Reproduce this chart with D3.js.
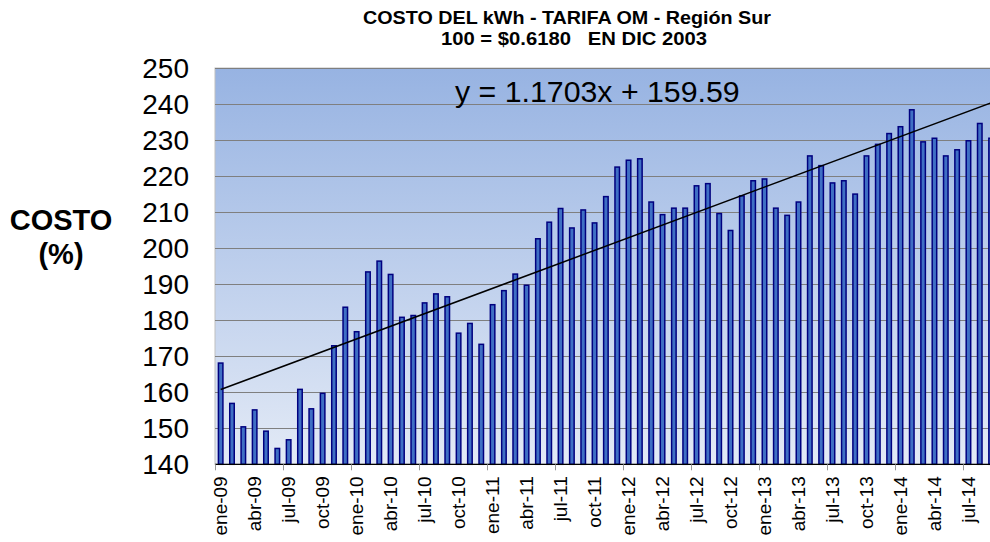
<!DOCTYPE html>
<html>
<head>
<meta charset="utf-8">
<script src="https://cdn.jsdelivr.net/npm/d3@7/dist/d3.min.js"></script>
<style>
  html, body { margin: 0; padding: 0; background: #ffffff; }
  svg { display: block; font-family: Arial, "Liberation Sans", sans-serif; }
</style>
</head>
<body>
<svg id="chart" width="990" height="542"></svg>
<script>
const months = [
  "ene-09","feb-09","mar-09","abr-09","may-09","jun-09","jul-09","ago-09","sep-09","oct-09","nov-09","dic-09",
  "ene-10","feb-10","mar-10","abr-10","may-10","jun-10","jul-10","ago-10","sep-10","oct-10","nov-10","dic-10",
  "ene-11","feb-11","mar-11","abr-11","may-11","jun-11","jul-11","ago-11","sep-11","oct-11","nov-11","dic-11",
  "ene-12","feb-12","mar-12","abr-12","may-12","jun-12","jul-12","ago-12","sep-12","oct-12","nov-12","dic-12",
  "ene-13","feb-13","mar-13","abr-13","may-13","jun-13","jul-13","ago-13","sep-13","oct-13","nov-13","dic-13",
  "ene-14","feb-14","mar-14","abr-14","may-14","jun-14","jul-14","ago-14","sep-14"
];
const costo = [
  168.1,156.9,150.4,155.1,149.2,144.4,146.8,160.8,155.4,159.7,
  172.9,183.6,176.8,193.4,196.4,192.7,180.8,181.3,184.8,187.3,
  186.5,176.4,179.1,173.3,184.3,188.2,192.8,189.7,202.6,207.2,
  211.0,205.6,210.6,207.0,214.3,222.5,224.4,224.8,212.8,209.3,
  211.1,211.1,217.3,217.9,209.6,204.9,214.5,218.7,219.2,211.1,
  209.1,212.8,225.6,222.9,218.1,218.7,215.0,225.6,228.8,231.8,
  233.7,238.4,229.5,230.5,225.6,227.3,229.8,234.6,230.5
];
const yTicks = [140,150,160,170,180,190,200,210,220,230,240,250];
const trendSlope = 1.1703;
const trendIntercept = 159.59;
const titleLines = ["COSTO DEL kWh - TARIFA OM - Región Sur", "100 = $0.6180   EN DIC 2003"];
const yTitleLines = ["COSTO", "(%)"];
const equationText = "y = 1.1703x + 159.59";

const svg = d3.select("#chart");
const pLeft = 215, pTop = 68, pBottom = 464.3;
const step = 11.33;
const pRight = pLeft + step * months.length;

const x = d3.scaleBand().domain(months).range([pLeft, pRight]).paddingInner(0.47).paddingOuter(0.235);
const y = d3.scaleLinear().domain([140, 250]).range([pBottom, pTop]);
const xIdx = d3.scaleLinear().domain([1, months.length]).range([x(months[0]) + x.bandwidth()/2, x(months[months.length-1]) + x.bandwidth()/2]);

const defs = svg.append("defs");
const grad = defs.append("linearGradient").attr("id", "bg").attr("x1", 0).attr("y1", 0).attr("x2", 0).attr("y2", 1);
grad.append("stop").attr("offset", "0%").attr("stop-color", "#97B3E2");
grad.append("stop").attr("offset", "100%").attr("stop-color", "#E3EAF6");

svg.append("rect").attr("x", pLeft).attr("y", pTop).attr("width", pRight - pLeft).attr("height", pBottom - pTop)
  .attr("fill", "url(#bg)").attr("stroke", "#BFBFBF").attr("stroke-width", 1);

svg.append("g").selectAll("line").data(yTicks.slice(1)).join("line")
  .attr("x1", pLeft).attr("x2", pRight)
  .attr("y1", d => Math.round(y(d)) + 0.5).attr("y2", d => Math.round(y(d)) + 0.5)
  .attr("stroke", "#7F7F7F").attr("stroke-width", 1);

svg.append("g").selectAll("text").data(yTicks).join("text")
  .attr("x", 189).attr("y", d => y(d)).attr("dy", "0.35em")
  .attr("text-anchor", "end").attr("font-size", 28).attr("fill", "#000")
  .text(d => d);

svg.append("g").selectAll("rect").data(costo).join("rect")
  .attr("x", (d, i) => x(months[i]) + 0.75)
  .attr("width", x.bandwidth() - 1.5)
  .attr("y", d => y(d))
  .attr("height", d => pBottom - y(d))
  .attr("fill", "#3F6FC4").attr("stroke", "#00007F").attr("stroke-width", 1.5);

svg.append("line").attr("x1", pLeft).attr("x2", pRight).attr("y1", pBottom).attr("y2", pBottom)
  .attr("stroke", "#000").attr("stroke-width", 1.3);

svg.append("g").selectAll("line").data(months.filter((m, i) => i % 6 === 0)).join("line")
  .attr("x1", d => Math.round(x(d) - x.step()*x.paddingInner()/2) + 0.5)
  .attr("x2", d => Math.round(x(d) - x.step()*x.paddingInner()/2) + 0.5)
  .attr("y1", pBottom).attr("y2", pBottom + 6)
  .attr("stroke", "#9A9A9A").attr("stroke-width", 1);

svg.append("g").selectAll("text").data(months.filter((m, i) => i % 3 === 0)).join("text")
  .attr("transform", d => `translate(${x(d) + x.bandwidth()/2},${pBottom + 12}) rotate(-90)`)
  .attr("dy", "0.35em").attr("text-anchor", "end").attr("font-size", 19).attr("fill", "#000")
  .text(d => d);

svg.append("line")
  .attr("x1", xIdx(1)).attr("y1", y(trendSlope * 1 + trendIntercept))
  .attr("x2", xIdx(months.length)).attr("y2", y(trendSlope * months.length + trendIntercept))
  .attr("stroke", "#000").attr("stroke-width", 1.5);

svg.append("text").attr("x", 455).attr("y", 102).attr("font-size", 30.3).attr("fill", "#000").text(equationText);

const titleCx = [567, 574];
const titleW = [408, 266];
svg.append("g").selectAll("text").data(titleLines).join("text")
  .attr("x", (d, i) => titleCx[i]).attr("y", (d, i) => 23.5 + i * 21)
  .attr("text-anchor", "middle").attr("font-size", 18).attr("font-weight", "bold").attr("fill", "#000")
  .style("white-space", "pre")
  .attr("textLength", (d, i) => titleW[i]).attr("lengthAdjust", "spacingAndGlyphs")
  .text(d => d);

svg.append("g").selectAll("text").data(yTitleLines).join("text")
  .attr("x", 61).attr("y", (d, i) => 230 + i * 34)
  .attr("text-anchor", "middle").attr("font-size", 29).attr("font-weight", "bold").attr("fill", "#000")
  .text(d => d);
</script>
</body>
</html>
